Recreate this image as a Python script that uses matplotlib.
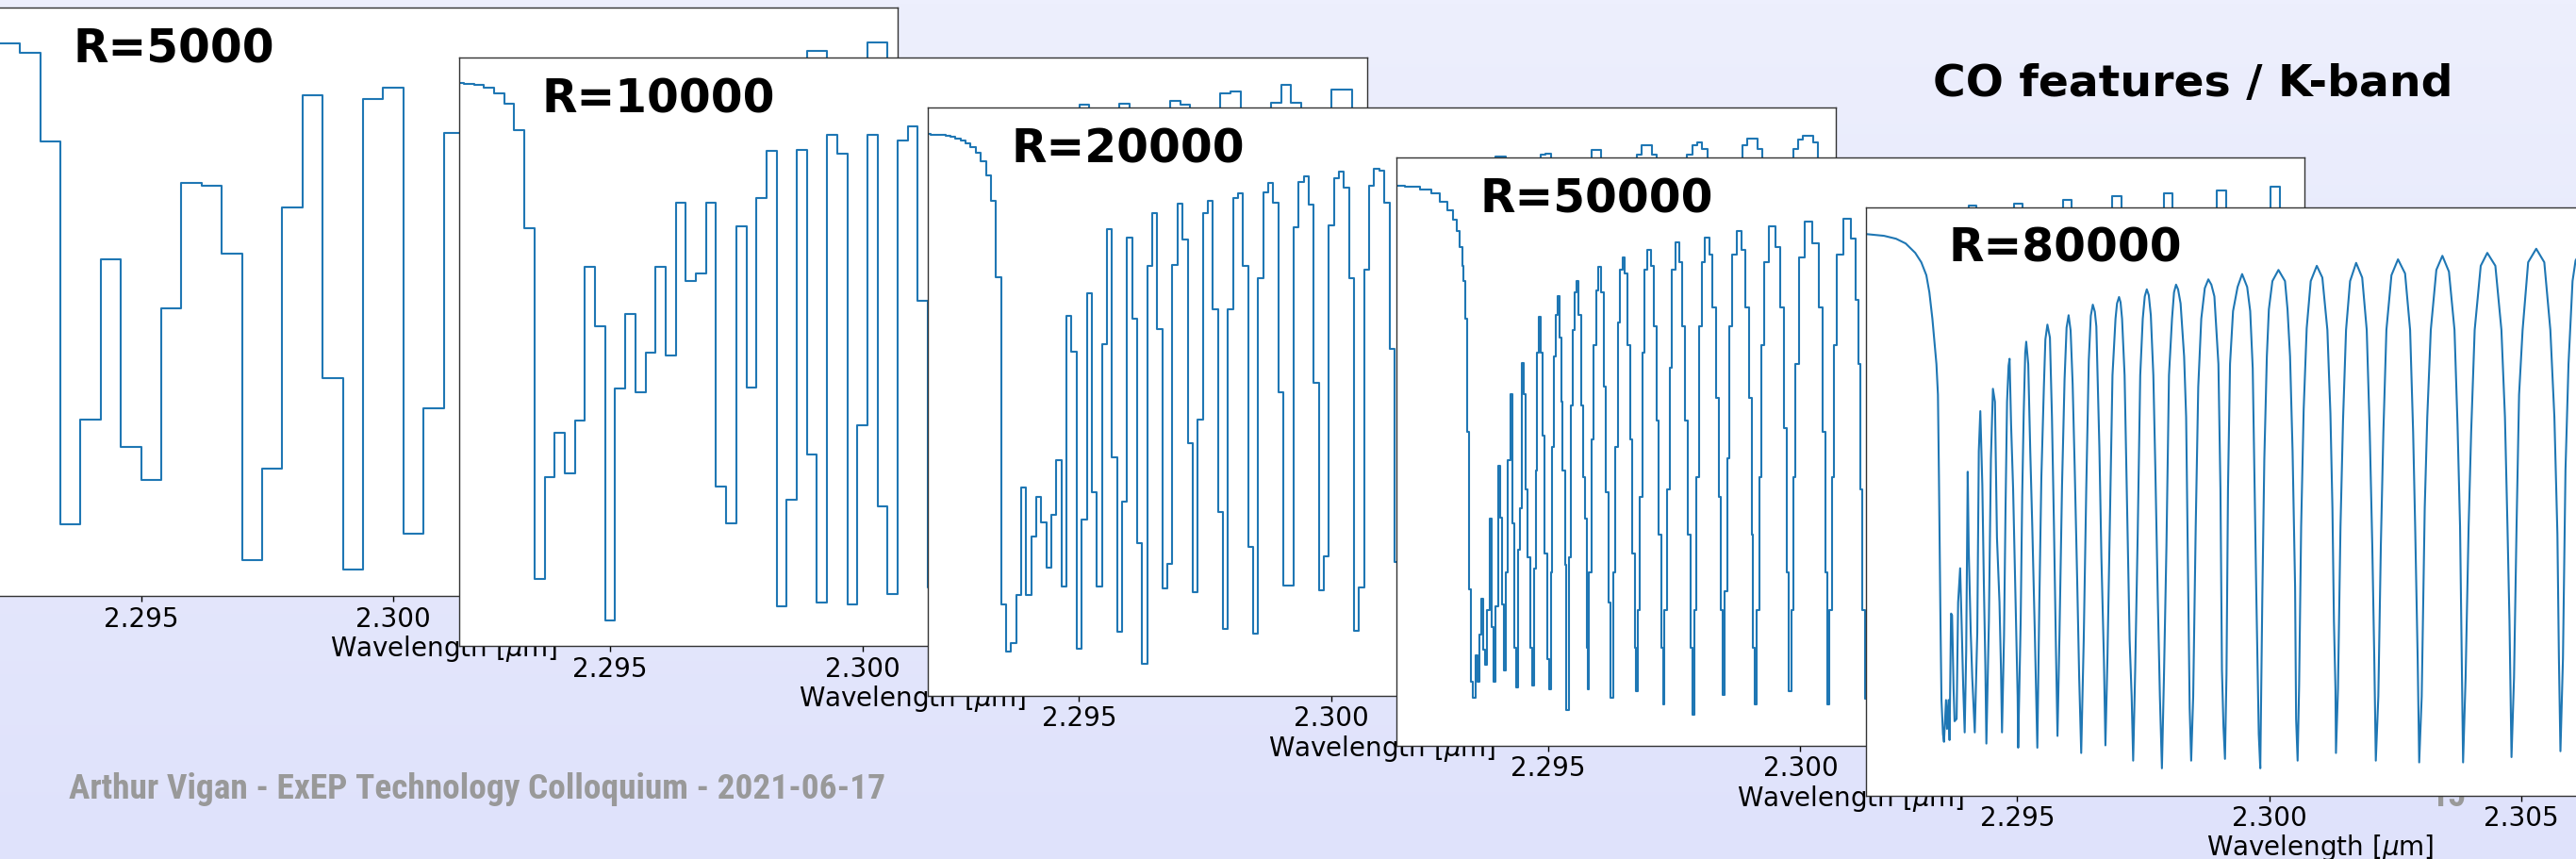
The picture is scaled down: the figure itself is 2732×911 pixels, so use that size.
import numpy as np
import matplotlib
matplotlib.use("Agg")
import matplotlib.pyplot as plt
from matplotlib.colors import LinearSegmentedColormap
from matplotlib import font_manager
from matplotlib.font_manager import FontProperties

# ---------------- data ----------------
panel_labels = ["R=5000", "R=10000", "R=20000", "R=50000", "R=80000"]
wl_start = 2.292          # micron, first sample of the binned spectra
wl_stop = 2.310
bin_width_r5k = 0.0004
bin_width_r10k = 0.0002
bin_width_r20k = 0.0001
xticks = [2.295, 2.300, 2.305, 2.310]
xtick_labels = ["2.295", "2.300", "2.305", "2.310"]
title_text = "CO features / K-band"
footer_text = "Arthur Vigan - ExEP Technology Colloquium - 2021-06-17"
page_number = "15"

# normalised flux (fraction of the panel height), one value per bin
flux_r5k = [0.940, 0.940, 0.924, 0.773, 0.123, 0.300, 0.573, 0.253, 0.197, 0.489,
            0.703, 0.698, 0.583, 0.062, 0.217, 0.660, 0.851, 0.370, 0.045, 0.845,
            0.864, 0.107, 0.320, 0.787, 0.300, 0.550, 0.850, 0.450, 0.700, 0.600,
            0.400, 0.880, 0.150, 0.850, 0.500, 0.450, 0.880, 0.200, 0.850, 0.700,
            0.300, 0.926, 0.400, 0.600, 0.941, 0.200]

flux_r10k = [0.957, 0.955, 0.953, 0.949, 0.939, 0.922, 0.877, 0.710, 0.114, 0.287,
             0.362, 0.294, 0.383, 0.645, 0.544, 0.044, 0.437, 0.564, 0.432, 0.499,
             0.644, 0.494, 0.754, 0.620, 0.633, 0.754, 0.271, 0.209, 0.714, 0.439,
             0.761, 0.841, 0.068, 0.249, 0.843, 0.325, 0.074, 0.869, 0.837, 0.070,
             0.375, 0.869, 0.237, 0.089, 0.859, 0.883, 0.586,
             0.100, 0.750, 0.880, 0.400, 0.250, 0.850, 0.890, 0.600, 0.150, 0.850,
             0.900, 0.800, 0.120, 0.700, 0.900, 0.920, 0.650, 0.100, 0.750, 0.922,
             0.890, 0.550, 0.150, 0.800, 0.927, 0.920, 0.750, 0.100, 0.700, 0.940,
             0.942, 0.800, 0.120, 0.600, 0.924, 0.954, 0.924, 0.250, 0.300, 0.900,
             0.945, 0.945, 0.700, 0.100]

flux_r20k = [0.955, 0.954, 0.954, 0.953, 0.952, 0.950, 0.947, 0.943, 0.939, 0.932,
             0.923, 0.908, 0.885, 0.841, 0.712,
             0.155, 0.075, 0.089, 0.171, 0.354, 0.171, 0.271, 0.338, 0.295, 0.217,
             0.307, 0.400, 0.185, 0.645, 0.584, 0.080, 0.299, 0.684, 0.346, 0.185,
             0.598, 0.793, 0.405, 0.109, 0.330, 0.779, 0.641, 0.259, 0.055, 0.730,
             0.821, 0.623, 0.183, 0.225, 0.733, 0.837, 0.776, 0.429, 0.176, 0.469,
             0.821, 0.841, 0.657, 0.313, 0.113, 0.657, 0.846, 0.854, 0.731, 0.253,
             0.106, 0.710, 0.856, 0.872, 0.838, 0.516, 0.187, 0.188, 0.796, 0.874,
             0.883, 0.834, 0.532, 0.180, 0.237, 0.800, 0.879, 0.891, 0.863, 0.710,
             0.111, 0.184, 0.724, 0.867, 0.896, 0.892, 0.838, 0.589, 0.228,
             0.150, 0.700, 0.870, 0.900, 0.900, 0.870, 0.600, 0.120, 0.450, 0.850,
             0.900, 0.910, 0.900, 0.850, 0.550, 0.140, 0.300, 0.800, 0.890, 0.917,
             0.917, 0.890, 0.780, 0.350, 0.120, 0.500, 0.850, 0.900, 0.920, 0.921,
             0.900, 0.860, 0.600, 0.150, 0.150, 0.550, 0.860, 0.910, 0.927, 0.927,
             0.910, 0.860, 0.620, 0.140, 0.300, 0.800, 0.890, 0.920, 0.936, 0.936,
             0.920, 0.890, 0.780, 0.300, 0.180, 0.600, 0.870, 0.920, 0.935, 0.940,
             0.930, 0.910, 0.850, 0.550, 0.120, 0.450, 0.850, 0.910, 0.935, 0.947,
             0.947, 0.930, 0.910, 0.820, 0.350, 0.140, 0.600, 0.880, 0.930, 0.945,
             0.952, 0.952, 0.940, 0.910, 0.800, 0.300, 0.150]

# R=50000 : (wavelength [um], normalised flux) vertices
spectrum_r50k = [
    (2.29200, 0.952), (2.29234, 0.950), (2.29259, 0.945), (2.29278, 0.938), (2.29293, 0.925),
    (2.29306, 0.909), (2.29315, 0.893), (2.29321, 0.874), (2.29328, 0.848), (2.29331, 0.816),
    (2.29334, 0.790), (2.29338, 0.726), (2.29341, 0.533), (2.29345, 0.266), (2.29348, 0.108),
    (2.29354, 0.082), (2.29358, 0.153), (2.29362, 0.108), (2.29365, 0.189), (2.29370, 0.250),
    (2.29373, 0.163), (2.29377, 0.137), (2.29381, 0.230), (2.29386, 0.385), (2.29390, 0.201),
    (2.29394, 0.108), (2.29398, 0.237), (2.29403, 0.475), (2.29406, 0.388), (2.29411, 0.240),
    (2.29415, 0.127), (2.29419, 0.295), (2.29422, 0.485), (2.29427, 0.597), (2.29431, 0.378),
    (2.29435, 0.166), (2.29439, 0.099), (2.29443, 0.333), (2.29447, 0.404), (2.29450, 0.650),
    (2.29454, 0.597), (2.29457, 0.436), (2.29462, 0.320), (2.29466, 0.166), (2.29470, 0.102),
    (2.29474, 0.301), (2.29477, 0.468), (2.29480, 0.668), (2.29484, 0.729), (2.29487, 0.668),
    (2.29491, 0.526), (2.29496, 0.327), (2.29500, 0.147), (2.29503, 0.095), (2.29507, 0.295),
    (2.29510, 0.507), (2.29513, 0.662), (2.29518, 0.732), (2.29520, 0.764), (2.29524, 0.694),
    (2.29527, 0.584), (2.29531, 0.468), (2.29535, 0.308), (2.29538, 0.060), (2.29543, 0.320),
    (2.29546, 0.578), (2.29550, 0.706), (2.29554, 0.771), (2.29558, 0.790), (2.29563, 0.732),
    (2.29568, 0.578), (2.29571, 0.456), (2.29574, 0.385), (2.29578, 0.166), (2.29579, 0.095),
    (2.29583, 0.295), (2.29588, 0.520), (2.29593, 0.681), (2.29597, 0.774), (2.29602, 0.813),
    (2.29608, 0.771), (2.29612, 0.610), (2.29617, 0.430), (2.29622, 0.243), (2.29626, 0.082),
    (2.29631, 0.295), (2.29636, 0.507), (2.29640, 0.719), (2.29645, 0.809), (2.29650, 0.829),
    (2.29655, 0.803), (2.29660, 0.681), (2.29664, 0.520), (2.29670, 0.327), (2.29674, 0.166),
    (2.29675, 0.092), (2.29680, 0.230), (2.29684, 0.423), (2.29689, 0.668), (2.29694, 0.809),
    (2.29700, 0.843), (2.29707, 0.816), (2.29712, 0.713), (2.29717, 0.552), (2.29722, 0.359),
    (2.29727, 0.166), (2.29728, 0.070), (2.29733, 0.230), (2.29738, 0.436), (2.29743, 0.642),
    (2.29748, 0.809), (2.29756, 0.856), (2.29764, 0.822), (2.29769, 0.713), (2.29774, 0.552),
    (2.29779, 0.359), (2.29784, 0.166), (2.29787, 0.053), (2.29792, 0.230), (2.29797, 0.456),
    (2.29801, 0.713), (2.29807, 0.822), (2.29815, 0.864), (2.29823, 0.835), (2.29829, 0.745),
    (2.29836, 0.591), (2.29840, 0.423), (2.29845, 0.230), (2.29848, 0.086), (2.29852, 0.262),
    (2.29857, 0.488), (2.29862, 0.713), (2.29869, 0.835), (2.29879, 0.874), (2.29888, 0.842),
    (2.29895, 0.745), (2.29901, 0.591), (2.29905, 0.359), (2.29908, 0.166), (2.29912, 0.070),
    (2.29916, 0.230), (2.29921, 0.456), (2.29926, 0.681), (2.29932, 0.822), (2.29945, 0.882),
    (2.29957, 0.848), (2.29964, 0.745), (2.29971, 0.539), (2.29976, 0.295), (2.29979, 0.092),
    (2.29984, 0.230), (2.29988, 0.456), (2.29993, 0.649), (2.30001, 0.829), (2.30016, 0.890),
    (2.30032, 0.854), (2.30041, 0.745), (2.30047, 0.533), (2.30052, 0.295), (2.30055, 0.070),
    (2.30060, 0.230), (2.30064, 0.456), (2.30069, 0.681), (2.30077, 0.835), (2.30092, 0.896),
    (2.30107, 0.861), (2.30113, 0.758), (2.30118, 0.649), (2.30121, 0.436), (2.30125, 0.230),
    (2.30132, 0.080), (2.30135, 0.250), (2.30140, 0.550), (2.30148, 0.760), (2.30158, 0.860),
    (2.30172, 0.900), (2.30186, 0.860), (2.30196, 0.760), (2.30204, 0.550), (2.30208, 0.250),
    (2.30211, 0.080), (2.30214, 0.250), (2.30219, 0.550), (2.30228, 0.770), (2.30239, 0.870),
    (2.30254, 0.908), (2.30269, 0.870), (2.30280, 0.770), (2.30289, 0.550), (2.30294, 0.250),
    (2.30297, 0.070), (2.30300, 0.250), (2.30305, 0.550), (2.30314, 0.780), (2.30325, 0.880),
    (2.30341, 0.917), (2.30357, 0.880), (2.30368, 0.780), (2.30376, 0.550), (2.30381, 0.250),
    (2.30384, 0.070), (2.30387, 0.250), (2.30393, 0.550), (2.30403, 0.780), (2.30415, 0.880),
    (2.30432, 0.921), (2.30449, 0.880), (2.30461, 0.780), (2.30471, 0.550), (2.30477, 0.250),
    (2.30480, 0.070), (2.30483, 0.250), (2.30489, 0.550), (2.30499, 0.790), (2.30511, 0.890),
    (2.30529, 0.928), (2.30546, 0.890), (2.30558, 0.790), (2.30568, 0.550), (2.30574, 0.250),
    (2.30577, 0.070), (2.30580, 0.250), (2.30586, 0.550), (2.30597, 0.790), (2.30610, 0.890),
    (2.30627, 0.934), (2.30645, 0.890), (2.30658, 0.790), (2.30669, 0.550), (2.30675, 0.250),
    (2.30678, 0.070), (2.30681, 0.250), (2.30687, 0.550), (2.30698, 0.800), (2.30711, 0.900),
    (2.30729, 0.939), (2.30747, 0.900), (2.30760, 0.800), (2.30772, 0.550), (2.30778, 0.250),
    (2.30781, 0.070), (2.30784, 0.250), (2.30790, 0.550), (2.30802, 0.800), (2.30815, 0.900),
    (2.30834, 0.944), (2.30853, 0.900), (2.30866, 0.800), (2.30878, 0.550), (2.30884, 0.250),
    (2.30887, 0.070), (2.30890, 0.250), (2.30896, 0.550), (2.30908, 0.800), (2.30922, 0.900),
    (2.30942, 0.950), (2.30961, 0.900), (2.30975, 0.800), (2.30987, 0.550), (2.30993, 0.250),
    (2.30996, 0.070), (2.31000, 0.300), (2.31005, 0.600),
]

# R=80000 : (wavelength [um], normalised flux) vertices
spectrum_r80k = [
    (2.29200, 0.954), (2.29236, 0.951), (2.29260, 0.946), (2.29279, 0.938), (2.29298, 0.922),
    (2.29310, 0.906), (2.29320, 0.884), (2.29326, 0.855), (2.29332, 0.810), (2.29336, 0.771),
    (2.29340, 0.733), (2.29343, 0.681), (2.29345, 0.540), (2.29348, 0.296), (2.29350, 0.162),
    (2.29353, 0.104), (2.29355, 0.091), (2.29359, 0.162), (2.29361, 0.113), (2.29364, 0.162),
    (2.29366, 0.094), (2.29369, 0.309), (2.29371, 0.306), (2.29374, 0.181), (2.29376, 0.126),
    (2.29380, 0.130), (2.29383, 0.328), (2.29387, 0.386), (2.29390, 0.290), (2.29393, 0.187),
    (2.29396, 0.107), (2.29399, 0.245), (2.29402, 0.550), (2.29404, 0.418), (2.29408, 0.277),
    (2.29411, 0.200), (2.29416, 0.107), (2.29421, 0.277), (2.29424, 0.585), (2.29427, 0.653),
    (2.29431, 0.527), (2.29434, 0.361), (2.29437, 0.219), (2.29439, 0.088), (2.29444, 0.296),
    (2.29448, 0.572), (2.29452, 0.691), (2.29456, 0.669), (2.29460, 0.438), (2.29465, 0.328),
    (2.29468, 0.213), (2.29470, 0.107), (2.29474, 0.271), (2.29477, 0.489), (2.29480, 0.669),
    (2.29483, 0.730), (2.29485, 0.742), (2.29488, 0.630), (2.29492, 0.521), (2.29497, 0.328),
    (2.29501, 0.168), (2.29502, 0.081), (2.29507, 0.296), (2.29510, 0.508), (2.29513, 0.649),
    (2.29516, 0.752), (2.29518, 0.771), (2.29522, 0.733), (2.29526, 0.585), (2.29530, 0.457),
    (2.29535, 0.277), (2.29540, 0.081), (2.29544, 0.328), (2.29548, 0.540), (2.29553, 0.694),
    (2.29556, 0.775), (2.29560, 0.800), (2.29565, 0.778), (2.29569, 0.643), (2.29573, 0.457),
    (2.29577, 0.245), (2.29580, 0.101), (2.29584, 0.277), (2.29589, 0.527), (2.29594, 0.707),
    (2.29598, 0.795), (2.29602, 0.816), (2.29606, 0.790), (2.29610, 0.700), (2.29614, 0.560),
    (2.29619, 0.367), (2.29623, 0.200), (2.29627, 0.072), (2.29632, 0.264), (2.29637, 0.521),
    (2.29642, 0.739), (2.29646, 0.815), (2.29650, 0.834), (2.29654, 0.822), (2.29657, 0.797),
    (2.29663, 0.592), (2.29667, 0.405), (2.29672, 0.232), (2.29675, 0.085), (2.29679, 0.232),
    (2.29684, 0.476), (2.29689, 0.714), (2.29695, 0.810), (2.29698, 0.836), (2.29702, 0.847),
    (2.29705, 0.838), (2.29708, 0.810), (2.29713, 0.714), (2.29718, 0.489), (2.29723, 0.264),
    (2.29727, 0.168), (2.29730, 0.059), (2.29734, 0.213), (2.29739, 0.444), (2.29744, 0.714),
    (2.29749, 0.810), (2.29753, 0.848), (2.29757, 0.860), (2.29761, 0.850), (2.29765, 0.816),
    (2.29770, 0.714), (2.29774, 0.553), (2.29779, 0.328), (2.29783, 0.168), (2.29787, 0.046),
    (2.29791, 0.200), (2.29796, 0.425), (2.29801, 0.714), (2.29807, 0.810), (2.29811, 0.855),
    (2.29815, 0.868), (2.29819, 0.860), (2.29824, 0.836), (2.29831, 0.746), (2.29835, 0.643),
    (2.29839, 0.361), (2.29842, 0.149), (2.29845, 0.059), (2.29849, 0.168), (2.29854, 0.457),
    (2.29859, 0.694), (2.29865, 0.810), (2.29872, 0.862), (2.29879, 0.877), (2.29885, 0.868),
    (2.29891, 0.848), (2.29899, 0.733), (2.29903, 0.521), (2.29906, 0.213), (2.29909, 0.117),
    (2.29912, 0.062), (2.29915, 0.206), (2.29918, 0.521), (2.29922, 0.733), (2.29928, 0.823),
    (2.29937, 0.864), (2.29946, 0.886), (2.29956, 0.864), (2.29962, 0.823), (2.29967, 0.726),
    (2.29971, 0.508), (2.29974, 0.348), (2.29979, 0.104), (2.29982, 0.046), (2.29986, 0.335),
    (2.29990, 0.572), (2.29995, 0.746), (2.29999, 0.826), (2.30006, 0.874), (2.30018, 0.893),
    (2.30031, 0.874), (2.30036, 0.826), (2.30041, 0.746), (2.30046, 0.585), (2.30051, 0.354),
    (2.30053, 0.130), (2.30056, 0.059), (2.30059, 0.187), (2.30063, 0.457), (2.30068, 0.656),
    (2.30074, 0.794), (2.30082, 0.874), (2.30094, 0.900), (2.30105, 0.880), (2.30115, 0.791),
    (2.30121, 0.649), (2.30125, 0.489), (2.30128, 0.296), (2.30131, 0.181), (2.30132, 0.072),
    (2.30136, 0.181), (2.30141, 0.457), (2.30146, 0.637), (2.30152, 0.791), (2.30160, 0.874),
    (2.30172, 0.905), (2.30184, 0.880), (2.30193, 0.791), (2.30199, 0.617), (2.30204, 0.425),
    (2.30208, 0.232), (2.30211, 0.059), (2.30216, 0.168), (2.30221, 0.425), (2.30226, 0.617),
    (2.30232, 0.791), (2.30242, 0.884), (2.30255, 0.911), (2.30269, 0.887), (2.30279, 0.791),
    (2.30285, 0.617), (2.30289, 0.457), (2.30294, 0.232), (2.30297, 0.056), (2.30302, 0.168),
    (2.30308, 0.489), (2.30313, 0.643), (2.30320, 0.791), (2.30331, 0.893), (2.30343, 0.917),
    (2.30356, 0.890), (2.30367, 0.791), (2.30373, 0.630), (2.30378, 0.457), (2.30381, 0.251),
    (2.30384, 0.056), (2.30389, 0.200), (2.30395, 0.457), (2.30400, 0.617), (2.30407, 0.791),
    (2.30419, 0.900), (2.30432, 0.922), (2.30448, 0.900), (2.30460, 0.791), (2.30467, 0.643),
    (2.30472, 0.457), (2.30476, 0.296), (2.30480, 0.065), (2.30485, 0.200), (2.30490, 0.457),
    (2.30495, 0.681), (2.30502, 0.791), (2.30513, 0.906), (2.30529, 0.929), (2.30545, 0.906),
    (2.30557, 0.791), (2.30565, 0.643), (2.30571, 0.444), (2.30574, 0.232), (2.30577, 0.075),
    (2.30582, 0.232), (2.30587, 0.553), (2.30593, 0.733), (2.30601, 0.874), (2.30607, 0.909),
    (2.30625, 0.935), (2.30640, 0.920),
]

# ---------------- fonts for the slide footer ----------------
def _has_font(name):
    try:
        font_manager.findfont(FontProperties(family=name, weight="bold"),
                              fallback_to_default=False)
        return True
    except Exception:
        return False

if _has_font("Roboto Condensed"):
    footer_font = dict(family="Roboto Condensed", fontsize=26.9, fontstretch="normal")
else:
    footer_font = dict(family="DejaVu Sans", fontsize=21.5, fontstretch="condensed")

# ---------------- figure ----------------
W, H = 2732, 911
fig = plt.figure(figsize=(W / 100, H / 100), dpi=100)

# slide background gradient
bg = fig.add_axes([0, 0, 1, 1], zorder=-10)
cmap = LinearSegmentedColormap.from_list("slide", ["#DFE2FB", "#EDEFFD"])
bg.imshow(np.linspace(0, 1, 256).reshape(-1, 1), aspect="auto", cmap=cmap,
          origin="lower", extent=[0, 1, 0, 1])
bg.set_axis_off()

panel_w, panel_h = 963, 624
dx, dy = 497.4, 52.8
left0, top0 = -10.8, 8.3
line_color = "#1f77b4"

step_series = [(bin_width_r5k, flux_r5k), (bin_width_r10k, flux_r10k),
               (bin_width_r20k, flux_r20k)]
curve_series = [spectrum_r50k, spectrum_r80k]

for k, label in enumerate(panel_labels):
    left = left0 + k * dx
    top = top0 + k * dy
    ax = fig.add_axes([left / W, 1 - (top + panel_h) / H, panel_w / W, panel_h / H],
                      zorder=k)
    ax.set_facecolor("white")
    if k < 3:
        width, vals = step_series[k]
        x = wl_start + width * np.arange(len(vals))
        ax.plot(x, vals, drawstyle="steps-mid", color=line_color, lw=1.5)
    else:
        wl, fl = zip(*curve_series[k - 3])
        ds = "steps-mid" if k == 3 else "default"
        ax.plot(wl, fl, drawstyle=ds, color=line_color, lw=1.5)
    ax.set_xlim(wl_start, wl_stop)
    ax.set_ylim(0, 1)
    ax.set_yticks([])
    ax.set_xticks(xticks)
    ax.set_xticklabels(xtick_labels, fontsize=20)
    ax.tick_params(axis="x", length=4.5, width=1, pad=3)
    ax.set_xlabel("Wavelength [$\\mu$m]", fontsize=20, labelpad=1)
    for s in ax.spines.values():
        s.set_color("#333333")
        s.set_linewidth(1.0)
    ax.text(0.0914, 0.929, label, transform=ax.transAxes, fontsize=35,
            fontweight="bold", ha="left", va="center")

fig.text(2326 / W, 1 - 90 / H, title_text, fontsize=34, fontweight="bold",
         ha="center", va="center", color="black", zorder=-5)
fig.text(73 / W, 1 - 837 / H, footer_text, fontweight="bold", ha="left", va="center",
         color="#999999", zorder=-5, **footer_font)
fig.text(2596 / W, 1 - 855 / H, page_number, fontweight="bold", ha="center",
         va="baseline", color="#999999", zorder=-5, **footer_font)

fig.savefig("out.png", dpi=100)
